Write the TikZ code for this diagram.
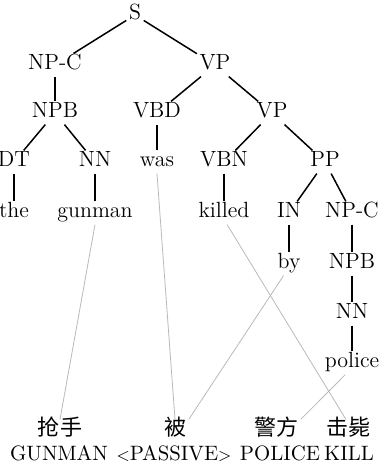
\documentclass[tikz,border=0pt]{standalone}
\usepackage{fontspec}
\newfontfamily\cjk{Noto Sans CJK SC}
\newcommand{\lt}{{\fontsize{8}{10}\selectfont<}}
\newcommand{\gt}{{\fontsize{8}{10}\selectfont>}}
\tikzset{lbl/.style={inner sep=1pt, text height=1.6ex, text depth=0.45ex,
         font=\fontsize{11}{13}\selectfont},
         gloss/.style={font=\fontsize{10.4}{12}\selectfont},
         align/.style={gray!55, line width=0.4pt}}

\begin{document}
\begin{tikzpicture}[x=0.5pt, y=-0.5pt, every node/.style={lbl}, line width=0.75pt]
         \useasboundingbox (0, 0) rectangle (381, 471);
         % tree
         \node (S) at (135, 15) {S};
         \node (NPC) at (55, 65) {NP-C};
         \node (VP) at (215, 65) {VP};
         \node (NPB) at (55, 113) {NPB};
         \node (VBD) at (157, 113) {VBD};
         \node (VPb) at (272, 113) {VP};
         \node (DT) at (14, 162) {DT};
         \node (NN) at (95, 162) {NN};
         \node (was) at (157, 162) {was};
         \node (VBN) at (224, 162) {VBN};
         \node (PP) at (325, 162) {PP};
         \node (the) at (14, 213) {the};
         \node (gunman) at (95, 213) {gunman};
         \node (killed) at (224, 213) {killed};
         \node (IN) at (289, 213) {IN};
         \node (NPCb) at (352, 213) {NP-C};
         \node (by) at (289, 264) {by};
         \node (NPBb) at (352, 264) {NPB};
         \node (NNb) at (352, 314) {NN};
         \node (police) at (352, 363) {police};
         % source words
         \node (qiangshou) at (60, 431) {\cjk 抢手};
         \node (bei) at (175, 431) {\cjk 被};
         \node (jingfang) at (276, 431) {\cjk 警方};
         \node (jibi) at (348, 431) {\cjk 击毙};
         \node [gloss] (GUNMAN) at (59, 456) {GUNMAN};
         \node [gloss] (PASSIVE) at (174, 456) {\lt PASSIVE\gt};
         \node [gloss] (POLICE) at (280, 456) {POLICE};
         \node [gloss] (KILL) at (349, 456) {KILL};
         \draw (S) -- (NPC);
         \draw (S) -- (VP);
         \draw (NPC) -- (NPB);
         \draw (VP) -- (VBD);
         \draw (VP) -- (VPb);
         \draw (NPB) -- (DT);
         \draw (NPB) -- (NN);
         \draw (VBD) -- (was);
         \draw (VPb) -- (VBN);
         \draw (VPb) -- (PP);
         \draw (DT) -- (the);
         \draw (NN) -- (gunman);
         \draw (VBN) -- (killed);
         \draw (PP) -- (IN);
         \draw (PP) -- (NPCb);
         \draw (IN) -- (by);
         \draw (NPCb) -- (NPBb);
         \draw (NPBb) -- (NNb);
         \draw (NNb) -- (police);
         % alignments
         \draw [align] (gunman.south) -- (qiangshou.north);
         \draw [align] (was.south) -- (bei.north);
         \draw [align] (killed.-75) -- (jibi.100);
         \draw [align] (by.-115) -- (bei.north east);
         \draw [align] (police.-120) -- (jingfang.north east);
\end{tikzpicture}
\end{document}
